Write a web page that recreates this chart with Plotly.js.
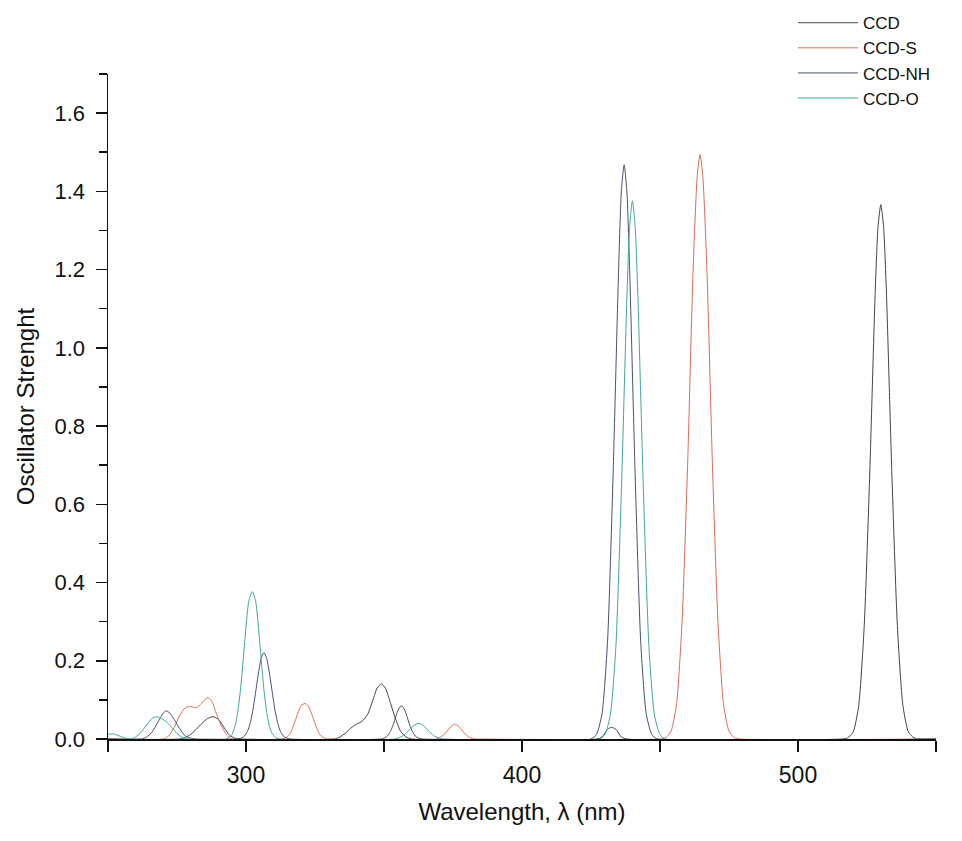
<!DOCTYPE html>
<html>
<head>
<meta charset="utf-8">
<script src="https://cdn.plot.ly/plotly-3.0.1.min.js"></script>
<style>html,body{margin:0;padding:0;background:#fff;}#chart{width:962px;height:841px;}</style>
</head>
<body>
<div id="chart"></div>
<script>
// Series names
const seriesNames = ["CCD", "CCD-S", "CCD-NH", "CCD-O"];

// CCD
const ccdX = [250, 276, 278, 280, 282, 284, 286, 288, 290, 292, 294, 296, 298,
  332, 334, 336, 338, 340, 342, 344, 346, 347.5, 349, 350.5, 352, 354, 356, 358, 360,
  427, 429, 431, 432.5, 434, 436, 438,
  516, 518, 520, 522, 524, 526, 528, 529, 530, 531, 532, 534, 536, 538, 540, 542, 544, 550];
const ccdY = [0, 0, 0.004, 0.012, 0.025, 0.04, 0.052, 0.057, 0.05, 0.03, 0.01, 0.002, 0,
  0, 0.005, 0.015, 0.028, 0.038, 0.045, 0.062, 0.10, 0.13, 0.141, 0.13, 0.10, 0.055, 0.02, 0.005, 0,
  0, 0.005, 0.025, 0.03, 0.025, 0.005, 0,
  0, 0.003, 0.018, 0.086, 0.29, 0.68, 1.15, 1.31, 1.366, 1.31, 1.15, 0.68, 0.29, 0.086, 0.018, 0.003, 0, 0];

// CCD-S
const ccdSX = [250, 270, 272, 274, 276, 278, 280, 282, 284, 286, 287.5, 289, 291, 293, 295,
  313, 314, 315, 316, 317, 318, 319, 320, 321.3, 322.5, 323.5, 324.5, 325.5, 326.5, 327.5, 328.5, 330,
  369, 370, 371, 372, 373, 374, 375.6, 377, 378, 379, 380, 381, 382, 384,
  450, 452, 454, 456, 458, 460, 462, 463.5, 464.5, 465.5, 467, 469, 471, 473, 475, 477, 479, 550];
const ccdSY = [0, 0, 0.008, 0.03, 0.06, 0.08, 0.083, 0.08, 0.092, 0.106, 0.098, 0.07, 0.035, 0.01, 0,
  0, 0.002, 0.006, 0.014, 0.03, 0.05, 0.07, 0.085, 0.091, 0.085, 0.07, 0.05, 0.03, 0.014, 0.006, 0.002, 0,
  0, 0.003, 0.007, 0.013, 0.021, 0.03, 0.038, 0.033, 0.025, 0.016, 0.009, 0.004, 0.001, 0,
  0, 0.003, 0.02, 0.09, 0.30, 0.70, 1.20, 1.44, 1.494, 1.44, 1.20, 0.70, 0.30, 0.09, 0.02, 0.003, 0, 0];

// CCD-NH
const ccdNHX = [250, 262, 264, 266, 268, 270, 271, 272, 274, 276, 278, 280, 282,
  297, 298.5, 299.5, 300.5, 301.5, 302.5, 303.5, 304.5, 305.5, 306.5, 307.5, 308.5, 309.5, 310.5, 311.5, 312.5, 313.5, 314.5, 316,
  349, 350.3, 351.3, 352.3, 353.3, 354.3, 355.3, 356.3, 357.3, 358.3, 359.3, 360.3, 361.3, 362.3, 364,
  425, 427, 429, 431, 433, 435, 436, 437, 438, 439, 441, 443, 445, 447, 449, 550];
const ccdNHY = [0, 0, 0.005, 0.018, 0.042, 0.066, 0.072, 0.069, 0.05, 0.026, 0.008, 0.002, 0,
  0, 0.003, 0.008, 0.019, 0.04, 0.074, 0.12, 0.168, 0.206, 0.221, 0.206, 0.168, 0.12, 0.074, 0.04, 0.019, 0.008, 0.003, 0,
  0, 0.003, 0.008, 0.019, 0.036, 0.058, 0.077, 0.085, 0.077, 0.058, 0.036, 0.019, 0.008, 0.003, 0,
  0, 0.012, 0.065, 0.25, 0.675, 1.20, 1.40, 1.468, 1.40, 1.20, 0.675, 0.25, 0.065, 0.012, 0, 0];

// CCD-O
const ccdOX = [250, 252, 254, 256, 258, 260, 262, 264, 266, 267.5, 269, 271, 273, 275, 277, 279,
  293, 294, 295, 296, 297, 298, 299, 300, 301, 302.3, 303.5, 304.5, 305.5, 306.5, 307.5, 308.5, 309.5, 310.5, 312,
  354, 356, 358, 360, 362.3, 364, 366, 368, 370, 372,
  428, 430, 432, 434, 436, 438, 439, 440, 441, 442, 444, 446, 448, 450, 452, 550];
const ccdOY = [0.012, 0.013, 0.008, 0.003, 0, 0.005, 0.017, 0.036, 0.053, 0.057, 0.054, 0.045, 0.03, 0.014, 0.004, 0,
  0, 0.005, 0.013, 0.032, 0.068, 0.126, 0.204, 0.287, 0.352, 0.377, 0.352, 0.287, 0.204, 0.126, 0.068, 0.032, 0.013, 0.005, 0,
  0, 0.005, 0.014, 0.03, 0.04, 0.036, 0.022, 0.009, 0.002, 0,
  0, 0.011, 0.061, 0.234, 0.633, 1.128, 1.31, 1.376, 1.31, 1.128, 0.633, 0.234, 0.061, 0.011, 0, 0];

const xTickVals = [300, 400, 500];
const xTickText = ["300", "400", "500"];
const yTickVals = [0, 0.2, 0.4, 0.6, 0.8, 1.0, 1.2, 1.4, 1.6];
const yTickText = ["0.0", "0.2", "0.4", "0.6", "0.8", "1.0", "1.2", "1.4", "1.6"];

const colors = ["#444444", "#e06a55", "#46506e", "#3fa89a"];
const xs = [ccdX, ccdSX, ccdNHX, ccdOX];
const ys = [ccdY, ccdSY, ccdNHY, ccdOY];

const regular = "Liberation Sans, Arial, sans-serif";

const traces = seriesNames.map((n, i) => ({
  type: "scatter", mode: "lines", name: n,
  x: xs[i], y: ys[i],
  line: {color: colors[i], width: 1, shape: "spline", smoothing: 0.6}
}));

const layout = {
  width: 962, height: 841,
  margin: {l: 108, r: 26, t: 74, b: 102, autoexpand: false},
  paper_bgcolor: "#fff", plot_bgcolor: "#fff",
  showlegend: true,
  legend: {x: 1.0, xanchor: "right", y: 1.1035, yanchor: "top", font: {family: regular, size: 17, color: "#111"},
    bgcolor: "rgba(0,0,0,0)", itemwidth: 60, tracegroupgap: 0},
  xaxis: {
    range: [250, 550], showgrid: false, zeroline: false,
    showline: true, linecolor: "#111", linewidth: 1.5,
    ticks: "outside", ticklen: 11, tickwidth: 1.5, tickcolor: "#111",
    tickvals: xTickVals, ticktext: xTickText, ticklabelstandoff: 4,
    tickfont: {family: regular, size: 23, color: "#111"},
    minor: {dtick: 50, tick0: 250, ticks: "outside", ticklen: 11, tickwidth: 1.5, tickcolor: "#111", showgrid: false},
    title: {text: "Wavelength, λ (nm)", font: {family: regular, size: 24, color: "#111"}, standoff: 16}
  },
  yaxis: {
    range: [0, 1.7], showgrid: false, zeroline: false,
    showline: true, linecolor: "#111", linewidth: 1.5,
    ticks: "outside", ticklen: 11, tickwidth: 1.5, tickcolor: "#111",
    tickvals: yTickVals, ticktext: yTickText, ticklabelstandoff: 6,
    tickfont: {family: regular, size: 22, color: "#111"},
    minor: {dtick: 0.1, tick0: 0, ticks: "outside", ticklen: 8, tickwidth: 1.5, tickcolor: "#111", showgrid: false},
    title: {text: "Oscillator Strenght", font: {family: regular, size: 24, color: "#111"}, standoff: 13}
  }
};

Plotly.newPlot("chart", traces, layout, {displayModeBar: false, staticPlot: true});
</script>
</body>
</html>
